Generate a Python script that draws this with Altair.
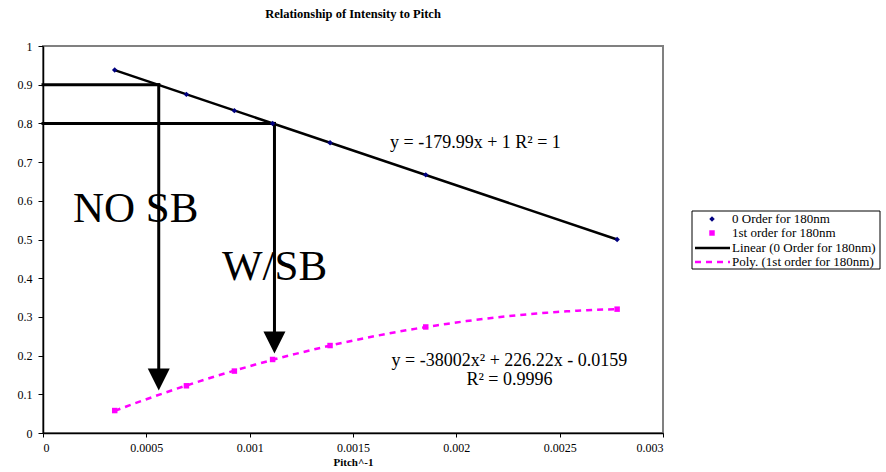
import altair as alt
import pandas as pd

FONT = "Liberation Serif"

# 1/pitch values (nm^-1) and measured intensities
inv_pitch = [0.000347, 0.000694, 0.000926, 0.001111, 0.001389, 0.001852, 0.002778]
order0 = [0.938, 0.875, 0.833, 0.800, 0.750, 0.667, 0.500]
order1 = [0.058, 0.122, 0.160, 0.190, 0.226, 0.274, 0.320]

x_ticks = [0, 0.0005, 0.001, 0.0015, 0.002, 0.0025, 0.003]
y_ticks = [0, 0.1, 0.2, 0.3, 0.4, 0.5, 0.6, 0.7, 0.8, 0.9, 1.0]

# read-across guides: intensity level -> pitch on the 0-order fit -> down to the 1st-order curve
guide_x = [0.00056, 0.00112]
guide_level = [0.9, 0.8]
arrow_head_y = [0.138, 0.234]

# large annotations
note_text = ["NO SB", "W/SB"]
note_x = [0.000145, 0.000866]
note_y = [0.545, 0.395]

# trendline equations
eq_text = ["y = -179.99x + 1 R\u00b2 = 1", "y = -38002x\u00b2 + 226.22x - 0.0159", "R\u00b2 = 0.9996"]
eq_x = [0.001679, 0.002257, 0.002257]
eq_y = [0.736, 0.173, 0.124]
eq_align = ["left", "center", "center"]

legend_labels = ["0 Order for 180nm", "1st order for 180nm",
                 "Linear (0 Order for 180nm)", "Poly. (1st order for 180nm)"]

BLUE = "#000080"
MAGENTA = "#FF00FF"

df = pd.DataFrame({"x": inv_pitch, "y0": order0, "y1": order1})
guides = pd.DataFrame({"x0": [0.0, 0.0], "x": guide_x, "level": guide_level, "head": arrow_head_y})
notes = pd.DataFrame({"x": note_x, "y": note_y, "t": note_text})
eqs = pd.DataFrame({"x": eq_x, "y": eq_y, "t": eq_text, "a": eq_align})

xscale = alt.Scale(domain=[0, 0.003], nice=False, zero=False)
yscale = alt.Scale(domain=[0, 1], nice=False)
xaxis = alt.Axis(title="Pitch^-1", values=x_ticks, labelExpr="format(datum.value, '~g')")
yaxis = alt.Axis(title=None, values=y_ticks, labelExpr="format(datum.value, '~g')")


def X(field):
    return alt.X(field, type="quantitative", scale=xscale, axis=xaxis)


def Y(field):
    return alt.Y(field, type="quantitative", scale=yscale, axis=yaxis)


base = alt.Chart(df)

fit0 = base.transform_regression("x", "y0", method="linear").mark_line(
    color="black", strokeWidth=2.5
).encode(x=X("x"), y=Y("y0"))

fit1 = base.transform_regression("x", "y1", method="poly", order=2).mark_line(
    color=MAGENTA, strokeWidth=2.5, strokeDash=[6, 5]
).encode(x=X("x"), y=Y("y1"))

pts0 = base.mark_point(shape="diamond", filled=True, size=30, color=BLUE, opacity=1).encode(
    x=X("x"), y=Y("y0"))
pts1 = base.mark_point(shape="square", filled=True, size=30, color=MAGENTA, opacity=1).encode(
    x=X("x"), y=Y("y1"))

g = alt.Chart(guides)
hrules = g.mark_rule(color="black", strokeWidth=3, strokeCap="square").encode(
    x=X("x0"), x2="x", y=Y("level"))
vrules = g.mark_rule(color="black", strokeWidth=3, strokeCap="square").encode(
    x=X("x"), y=Y("level"), y2="head")
heads = g.mark_point(shape="M-1,-1L1,-1L0,1Z", filled=True, size=484, color="black",
                     opacity=1).encode(x=X("x"), y=Y("head"))

note_layer = alt.Chart(notes).mark_text(
    font=FONT, fontSize=43, align="left", baseline="alphabetic", color="black"
).encode(x=X("x"), y=Y("y"), text="t:N")

eq_layers = []
for i in range(len(eq_text)):
    eq_layers.append(
        alt.Chart(eqs.iloc[[i]]).mark_text(
            font=FONT, fontSize=18, align=eq_align[i], baseline="alphabetic", color="black"
        ).encode(x=X("x"), y=Y("y"), text="t:N")
    )

# legend box (pixel positions relative to the plot area)
one = pd.DataFrame({"k": [0]})
lg = alt.Chart(one)
legend_layers = [
    lg.mark_rect(fill="white", stroke="black", strokeWidth=1).encode(
        x=alt.value(649), x2=alt.value(837), y=alt.value(165), y2=alt.value(223)),
    lg.mark_point(shape="diamond", filled=True, size=30, color=BLUE, opacity=1).encode(
        x=alt.value(669), y=alt.value(173)),
    lg.mark_point(shape="square", filled=True, size=30, color=MAGENTA, opacity=1).encode(
        x=alt.value(669), y=alt.value(187)),
    lg.mark_rule(color="black", strokeWidth=2.5).encode(
        x=alt.value(652), x2=alt.value(687), y=alt.value(202)),
    lg.mark_rule(color=MAGENTA, strokeWidth=2.5, strokeDash=[6, 5]).encode(
        x=alt.value(652), x2=alt.value(687), y=alt.value(216)),
]
for i, lab in enumerate(legend_labels):
    legend_layers.append(
        lg.mark_text(font=FONT, fontSize=13, align="left", baseline="middle",
                     color="black", text=lab).encode(
            x=alt.value(689), y=alt.value([173, 187, 202, 216][i]))
    )

chart = alt.layer(
    hrules, vrules, heads, fit0, fit1, pts0, pts1, note_layer, *eq_layers, *legend_layers
).properties(
    width=620,
    height=387,
    autosize="none",
    padding={"left": 43, "top": 46, "right": 223, "bottom": 39},
    title=alt.TitleParams(
        "Relationship of Intensity to Pitch", font=FONT, fontSize=12.5, fontWeight="bold",
        color="black", anchor="middle", offset=20),
    background="white",
).configure_view(
    stroke="#808080", strokeWidth=2
).configure_axis(
    grid=False,
    domainColor="black",
    domainWidth=1.5,
    tickColor="black",
    tickWidth=1,
    labelFont=FONT,
    labelFontSize=12,
    labelColor="black",
    titleFont=FONT,
    titleFontSize=11,
    titleFontWeight="bold",
    titleColor="black",
).configure_axisX(
    tickSize=4, labelPadding=5, titlePadding=3
).configure_axisY(
    tickSize=5, labelPadding=6
)

chart.save("out.html", embed_options={"renderer": "svg", "actions": False})
